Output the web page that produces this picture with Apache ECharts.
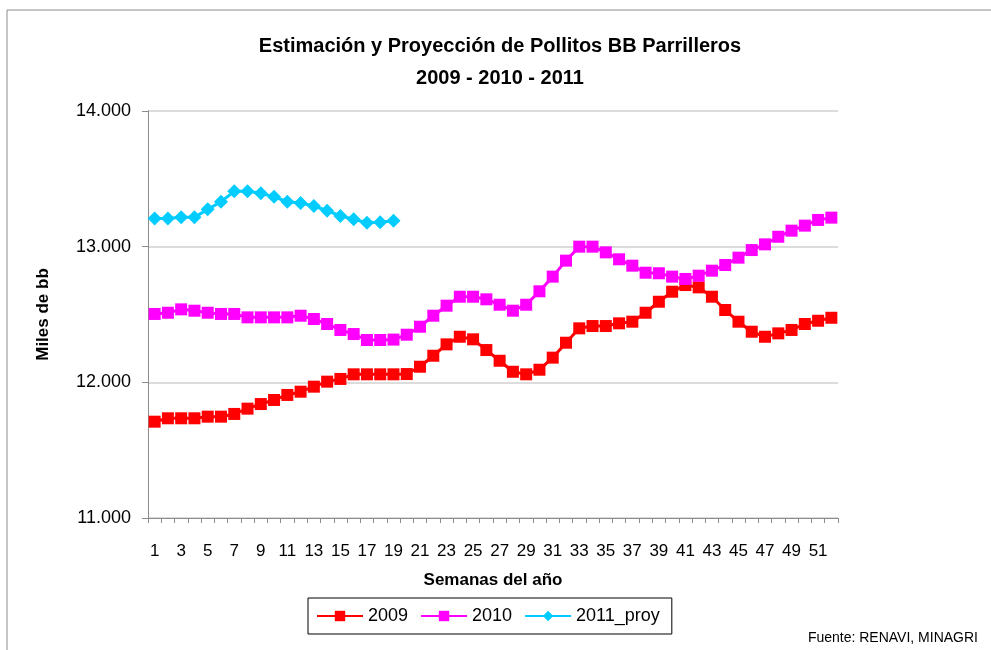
<!DOCTYPE html>
<html>
<head>
<meta charset="utf-8">
<script src="https://cdn.jsdelivr.net/npm/echarts@6/dist/echarts.min.js"></script>
<style>
  html, body { margin: 0; padding: 0; background: #fff; }
  #chart { width: 991px; height: 650px; }
</style>
</head>
<body>
<div id="chart"></div>
<script>
// semanas 1..52
const weeks = [];
for (let i = 1; i <= 52; i++) weeks.push(String(i));

const s2009 = [11710, 11735, 11735, 11735, 11747, 11747, 11767, 11806, 11840, 11870,
  11907, 11931, 11968, 12005, 12025, 12059, 12059, 12059, 12059, 12061,
  12115, 12196, 12280, 12336, 12317, 12238, 12159, 12078, 12059, 12093,
  12182, 12292, 12398, 12415, 12415, 12435, 12447, 12513, 12594, 12668,
  12717, 12700, 12631, 12533, 12447, 12373, 12336, 12361, 12386, 12430,
  12454, 12476];

const s2010 = [12504, 12513, 12538, 12528, 12513, 12504, 12504, 12479, 12479, 12479,
  12479, 12491, 12467, 12430, 12386, 12356, 12312, 12312, 12315, 12351,
  12410, 12491, 12565, 12631, 12631, 12612, 12572, 12528, 12572, 12671,
  12779, 12897, 13000, 13000, 12958, 12907, 12860, 12808, 12804, 12779,
  12762, 12786, 12823, 12865, 12919, 12975, 13017, 13073, 13118, 13155,
  13197, 13214];

const s2011 = [13207, 13207, 13216, 13216, 13275, 13331, 13408, 13408, 13393, 13368,
  13331, 13322, 13300, 13265, 13226, 13202, 13177, 13180, 13191];

const yTicks = [11000, 12000, 13000, 14000];

const font = 'Liberation Sans';

let myChart = echarts.init(document.getElementById('chart'));
let option = {
  backgroundColor: '#fff',
  animation: false,
  textStyle: { fontFamily: font },
  title: {
    text: 'Estimación y Proyección de Pollitos BB Parrilleros\n2009 - 2010 - 2011',
    left: 495,
    textAlign: 'center',
    top: 25,
    textStyle: { fontSize: 20, fontWeight: 'bold', color: '#000', lineHeight: 32, fontFamily: font }
  },
  graphic: [
    { type: 'line', shape: { x1: 7, y1: 10, x2: 991, y2: 10 }, style: { stroke: '#8c8c8c', lineWidth: 1 } },
    { type: 'line', shape: { x1: 7, y1: 10, x2: 7, y2: 650 }, style: { stroke: '#8c8c8c', lineWidth: 1 } },
    {
      type: 'text', right: 13, top: 631,
      style: { text: 'Fuente: RENAVI, MINAGRI', fill: '#000', font: '14px ' + font }
    }
  ],
  legend: {
    data: ['2009', '2010', '2011_proy'],
    left: 308,
    top: 598,
    orient: 'horizontal',
    itemWidth: 46,
    itemHeight: 13,
    itemGap: 12,
    padding: [9, 12, 9, 8],
    borderColor: '#000',
    borderWidth: 1,
    textStyle: { fontSize: 18, color: '#000', fontFamily: font }
  },
  grid: { left: 148, right: 153, top: 111, bottom: 132 },
  xAxis: {
    type: 'category',
    data: weeks,
    boundaryGap: true,
    name: 'Semanas del año',
    nameLocation: 'middle',
    nameGap: 54,
    nameTextStyle: { fontSize: 17, fontWeight: 'bold', color: '#000', fontFamily: font },
    axisLine: { lineStyle: { color: '#8c8c8c', width: 1 } },
    axisTick: { show: true, interval: 0, length: 5, lineStyle: { color: '#8c8c8c' } },
    axisLabel: { interval: 1, fontSize: 17, color: '#000', margin: 25, fontFamily: font }
  },
  yAxis: {
    type: 'value',
    min: 11000,
    max: 14000,
    interval: 1000,
    name: 'Miles de bb',
    nameLocation: 'middle',
    nameRotate: 90,
    nameGap: 96,
    nameTextStyle: { fontSize: 17, fontWeight: 'bold', color: '#000', fontFamily: font },
    axisLine: { show: true, lineStyle: { color: '#8c8c8c', width: 1 } },
    axisTick: { show: true, length: 6, lineStyle: { color: '#8c8c8c' } },
    axisLabel: {
      fontSize: 18, color: '#000', margin: 17, fontFamily: font,
      formatter: v => yTicks.includes(v) ? (v / 1000).toFixed(3) : ''
    },
    splitLine: { lineStyle: { color: '#d0d0d0', width: 1.5 } }
  },
  series: [
    {
      name: '2009', type: 'line', data: s2009,
      symbol: 'rect', symbolSize: 12, showAllSymbol: true,
      itemStyle: { color: '#ff0000' },
      lineStyle: { color: '#ff0000', width: 3 }
    },
    {
      name: '2010', type: 'line', data: s2010,
      symbol: 'rect', symbolSize: 12, showAllSymbol: true,
      itemStyle: { color: '#ff00ff' },
      lineStyle: { color: '#ff00ff', width: 3 }
    },
    {
      name: '2011_proy', type: 'line', data: s2011,
      symbol: 'diamond', symbolSize: 14, showAllSymbol: true,
      itemStyle: { color: '#00ccff' },
      lineStyle: { color: '#00ccff', width: 3 }
    }
  ]
};
option && myChart.setOption(option);
</script>
</body>
</html>
